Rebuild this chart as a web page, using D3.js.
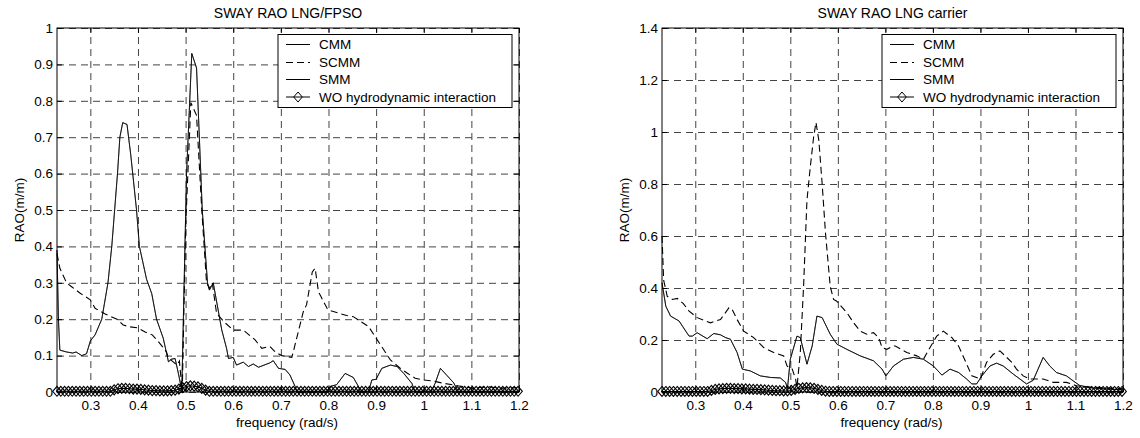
<!DOCTYPE html>
<html>
<head>
<meta charset="utf-8">
<script src="https://cdn.jsdelivr.net/npm/d3@7"></script>
<style>
  body { margin: 0; background: #fff; }
  text { font-family: "Liberation Sans", Arial, sans-serif; fill: #000; }
</style>
</head>
<body>
<div id="chart"></div>
<script>
// tick labels
var freqTicks = [0.3, 0.4, 0.5, 0.6, 0.7, 0.8, 0.9, 1.0, 1.1, 1.2];
var fpsoYTicks = [0, 0.1, 0.2, 0.3, 0.4, 0.5, 0.6, 0.7, 0.8, 0.9, 1];
var carrierYTicks = [0, 0.2, 0.4, 0.6, 0.8, 1.0, 1.2, 1.4];
var legendNames = ['CMM', 'SCMM', 'SMM', 'WO hydrodynamic interaction'];

// LNG/FPSO : [frequency, RAO]
var fpsoScmm = [[0.23,0.38],[0.236,0.34],[0.243,0.32],[0.25,0.3],[0.26,0.29],[0.278,0.272],[0.3,0.253],[0.31,0.23],[0.33,0.215],[0.356,0.2],[0.369,0.184],[0.383,0.179],[0.4,0.176],[0.415,0.165],[0.43,0.157],[0.445,0.135],[0.46,0.11],[0.463,0.096],[0.472,0.085],[0.482,0.074],[0.487,0.085],[0.493,0.0],[0.5,0.45],[0.511,0.795],[0.523,0.76],[0.534,0.5],[0.544,0.3],[0.55,0.285],[0.556,0.3],[0.565,0.216],[0.583,0.19],[0.6,0.17],[0.621,0.17],[0.646,0.143],[0.66,0.12],[0.677,0.125],[0.688,0.11],[0.702,0.1],[0.723,0.095],[0.726,0.11],[0.747,0.22],[0.754,0.24],[0.766,0.33],[0.772,0.34],[0.779,0.275],[0.785,0.26],[0.797,0.23],[0.8,0.225],[0.838,0.21],[0.852,0.207],[0.884,0.18],[0.909,0.13],[0.93,0.088],[0.95,0.066],[0.965,0.052],[0.982,0.038],[1.0,0.033],[1.02,0.03],[1.041,0.024],[1.077,0.016],[1.105,0.01],[1.133,0.015],[1.16,0.01],[1.195,0.012]];
var fpsoSmm = [[0.23,0.39],[0.233,0.2],[0.236,0.115],[0.25,0.11],[0.263,0.107],[0.27,0.11],[0.282,0.1],[0.292,0.105],[0.3,0.14],[0.31,0.157],[0.324,0.2],[0.337,0.3],[0.345,0.4],[0.357,0.6],[0.362,0.7],[0.368,0.74],[0.377,0.735],[0.385,0.65],[0.397,0.5],[0.403,0.4],[0.418,0.31],[0.429,0.27],[0.439,0.2],[0.453,0.148],[0.464,0.083],[0.47,0.09],[0.478,0.092],[0.485,0.05],[0.492,0.005],[0.502,0.6],[0.513,0.93],[0.523,0.89],[0.535,0.5],[0.546,0.3],[0.55,0.28],[0.558,0.3],[0.576,0.17],[0.586,0.12],[0.59,0.092],[0.6,0.095],[0.607,0.074],[0.621,0.082],[0.632,0.07],[0.642,0.077],[0.653,0.068],[0.677,0.08],[0.684,0.086],[0.695,0.065],[0.709,0.062],[0.719,0.047],[0.73,0.015],[0.734,0],[0.795,0],[0.803,0.015],[0.817,0.02],[0.835,0.051],[0.852,0.04],[0.863,0.015],[0.867,0],[0.884,0],[0.891,0.033],[0.9,0.035],[0.912,0.065],[0.93,0.074],[0.944,0.07],[0.958,0.051],[0.975,0.024],[0.982,0],[1.015,0],[1.024,0.024],[1.035,0.065],[1.049,0.045],[1.063,0.025],[1.073,0],[1.2,0]];
// CMM cannot be told apart from SMM in the figure: it lies under it
var fpsoCmm = fpsoSmm;
var fpsoWo = [
  0.002,0.002,0.002,0.002,0.002,0.002,0.002,0.002,0.002,0.002,0.002,0.002,0.002,0.002,0.002,
  0.006,0.009,0.010,0.010,0.009,0.008,0.008,0.007,0.006,0.005,
  0.004,0.004,0.003,0.003,0.003,0.004,0.005,
  0.008,0.012,0.015,0.017,0.016,0.014,0.010,0.005,0.002,
  0.002,0.002,0.002,0.002,0.002,0.002,0.002,0.002,0.002,0.002,
  0.002,0.002,0.002,0.002,0.002,0.002,0.002,0.002,0.002,0.002,
  0.002,0.002,0.002,0.002,0.002,0.002,0.002,0.002,0.002,0.002,
  0.002,0.002,0.002,0.002,0.002,0.002,0.002,0.002,0.002,0.002,
  0.002,0.002,0.002,0.002,0.002,0.002,0.002,0.002,0.002,0.002,
  0.002,0.002,0.002,0.002,0.002,0.002,0.002,0.002,0.002,0.002,
  0.002,0.002,0.002,0.002,0.002,0.002,0.002,0.002,0.002,0.002,
  0.002,0.002,0.002,0.002,0.002,0.002,0.002,0.002,0.002,0.002,
  0.002];

// LNG carrier : [frequency, RAO]
var carrierScmm = [[0.23,0.6],[0.2335,0.43],[0.241,0.368],[0.252,0.356],[0.262,0.36],[0.269,0.349],[0.275,0.34],[0.287,0.311],[0.304,0.286],[0.332,0.266],[0.353,0.279],[0.371,0.324],[0.377,0.32],[0.388,0.279],[0.402,0.234],[0.423,0.209],[0.444,0.171],[0.465,0.152],[0.486,0.139],[0.493,0.1],[0.504,0.088],[0.511,0.05],[0.514,0.018],[0.521,0.152],[0.528,0.41],[0.535,0.738],[0.542,0.865],[0.549,0.98],[0.554,1.037],[0.56,0.968],[0.567,0.8],[0.574,0.611],[0.584,0.406],[0.591,0.356],[0.597,0.35],[0.619,0.305],[0.633,0.267],[0.647,0.234],[0.661,0.222],[0.675,0.228],[0.686,0.209],[0.693,0.171],[0.703,0.164],[0.717,0.177],[0.721,0.177],[0.745,0.152],[0.766,0.139],[0.78,0.126],[0.794,0.171],[0.808,0.215],[0.822,0.234],[0.84,0.209],[0.854,0.177],[0.868,0.12],[0.882,0.062],[0.9,0.05],[0.913,0.114],[0.927,0.145],[0.941,0.158],[0.952,0.139],[0.966,0.114],[0.976,0.088],[0.99,0.062],[1.004,0.05],[1.032,0.05],[1.053,0.037],[1.081,0.037],[1.102,0.024],[1.123,0.02],[1.165,0.015],[1.19,0.013],[1.2,0.012]];
var carrierSmm = [[0.23,0.42],[0.238,0.33],[0.248,0.292],[0.266,0.273],[0.28,0.234],[0.287,0.215],[0.294,0.215],[0.304,0.228],[0.325,0.205],[0.339,0.225],[0.353,0.22],[0.364,0.209],[0.374,0.203],[0.388,0.152],[0.399,0.088],[0.416,0.081],[0.437,0.062],[0.458,0.056],[0.479,0.054],[0.49,0.037],[0.494,0.013],[0.5,0.126],[0.514,0.215],[0.521,0.209],[0.535,0.107],[0.546,0.177],[0.556,0.292],[0.567,0.286],[0.584,0.222],[0.598,0.184],[0.619,0.164],[0.647,0.139],[0.675,0.12],[0.693,0.088],[0.701,0.062],[0.717,0.1],[0.738,0.126],[0.759,0.133],[0.78,0.126],[0.801,0.1],[0.819,0.065],[0.836,0.088],[0.854,0.075],[0.871,0.05],[0.882,0.031],[0.892,0.031],[0.903,0.062],[0.92,0.1],[0.934,0.111],[0.948,0.1],[0.969,0.069],[0.997,0.031],[1.011,0.045],[1.032,0.133],[1.046,0.1],[1.06,0.075],[1.081,0.062],[1.095,0.043],[1.109,0.025],[1.137,0.015],[1.2,0.008]];
var carrierCmm = carrierSmm;
var carrierWo = [
  0.002,0.002,0.002,0.002,0.002,0.002,0.002,0.002,0.002,0.002,0.002,0.002,0.002,
  0.006,0.010,0.012,0.013,0.014,0.014,0.013,0.013,0.012,0.012,0.011,0.010,0.010,0.009,0.008,0.007,0.006,
  0.005,0.005,0.004,0.004,0.006,
  0.010,0.014,0.016,0.017,0.016,0.014,0.010,0.006,0.003,
  0.002,0.002,0.002,0.002,0.002,0.002,0.002,0.002,0.002,0.002,
  0.002,0.002,0.002,0.002,0.002,0.002,0.002,0.002,0.002,0.002,
  0.002,0.002,0.002,0.002,0.002,0.002,0.002,0.002,0.002,0.002,
  0.002,0.002,0.002,0.002,0.002,0.002,0.002,0.002,0.002,0.002,
  0.002,0.002,0.002,0.002,0.002,0.002,0.002,0.002,0.002,0.002,
  0.002,0.002,0.002,0.002,0.002,0.002,0.002,0.002,0.002,0.002,
  0.002,0.002,0.002,0.002,0.002,0.002,0.002,0.002,0.002,0.002,
  0.002,0.002,0.002,0.002,0.002,0.002,0.002,0.002];

// sampling grid of the WO curves
var woFreq = d3.range(122).map(function(i){ return 0.23 + i * 0.008; });

var svg = d3.select('#chart').append('svg')
            .attr('width', 1140)
            .attr('height', 438);

var fontSize = 13.5;
var diamond = 'M0,-5L4.3,0L0,5L-4.3,0Z';

function drawPanel(p) {
    var x = d3.scaleLinear().domain([0.23, 1.2]).range([p.left, p.right]);
    var y = d3.scaleLinear().domain([0, p.yMax]).range([392, 28]);
    var g = svg.append('g');
    var fmt = d3.format('~g');

    // dashed grid
    g.append('g').attr('transform', 'translate(0,392)')
      .call(d3.axisBottom(x).tickValues(freqTicks).tickSize(-364).tickFormat(''))
      .call(function(s){ s.select('.domain').remove(); })
      .selectAll('line').attr('stroke', '#444').attr('stroke-dasharray', '7,5');
    g.append('g').attr('transform', 'translate(' + p.left + ',0)')
      .call(d3.axisLeft(y).tickValues(p.yTicks).tickSize(-(p.right - p.left)).tickFormat(''))
      .call(function(s){ s.select('.domain').remove(); })
      .selectAll('line').attr('stroke', '#444').attr('stroke-dasharray', '7,5');

    // box
    g.append('rect').attr('x', p.left).attr('y', 28)
      .attr('width', p.right - p.left).attr('height', 364)
      .attr('fill', 'none').attr('stroke', '#000').attr('stroke-width', 1);

    // axes with inward ticks
    g.append('g').attr('transform', 'translate(0,392)')
      .call(d3.axisBottom(x).tickValues(freqTicks).tickSize(-5).tickPadding(8).tickFormat(fmt));
    g.append('g').attr('transform', 'translate(' + p.left + ',0)')
      .call(d3.axisLeft(y).tickValues(p.yTicks).tickSize(-5).tickPadding(4).tickFormat(fmt));
    g.append('g').attr('transform', 'translate(0,28)')
      .call(d3.axisTop(x).tickValues(freqTicks).tickSize(-5).tickFormat(''));
    g.append('g').attr('transform', 'translate(' + p.right + ',0)')
      .call(d3.axisRight(y).tickValues(p.yTicks).tickSize(-5).tickFormat(''));
    g.selectAll('.domain').remove();
    g.selectAll('.tick text').attr('font-size', fontSize).attr('font-family', '"Liberation Sans", Arial, sans-serif');

    // titles
    var cx = (p.left + p.right) / 2;
    g.append('text').attr('x', cx).attr('y', 17.5).attr('text-anchor', 'middle')
      .attr('font-size', 14).text(p.title);
    g.append('text').attr('x', cx - 1).attr('y', 427).attr('text-anchor', 'middle')
      .attr('font-size', fontSize).text('frequency (rad/s)');
    g.append('text').attr('transform', 'translate(' + (p.left - 38) + ',210) rotate(-90)')
      .attr('text-anchor', 'middle').attr('dy', '0.35em')
      .attr('font-size', fontSize).text('RAO(m/m)');

    var line = d3.line().x(function(d){ return x(d[0]); }).y(function(d){ return y(d[1]); });

    // WO curve with diamonds
    var wo = woFreq.map(function(f, i){ return [f, p.wo[i]]; });
    g.append('path').datum(wo).attr('fill', 'none').attr('stroke', '#000')
      .attr('stroke-width', 1.1).attr('d', line);
    g.selectAll('.wo').data(wo).enter().append('path')
      .attr('class', 'wo')
      .attr('transform', function(d){ return 'translate(' + x(d[0]) + ',' + y(d[1]) + ')'; })
      .attr('d', diamond).attr('fill', 'none').attr('stroke', '#000').attr('stroke-width', 1.1);

    g.append('path').datum(p.cmm).attr('fill', 'none').attr('stroke', '#000')
      .attr('stroke-width', 0.7).attr('d', line);
    g.append('path').datum(p.scmm).attr('fill', 'none').attr('stroke', '#000')
      .attr('stroke-width', 1.1).attr('stroke-dasharray', '7,4').attr('d', line);
    g.append('path').datum(p.smm).attr('fill', 'none').attr('stroke', '#000')
      .attr('stroke-width', 0.7).attr('d', line);

    // legend
    var lx = p.right - 241, ly = 34.5;
    var lg = g.append('g').attr('transform', 'translate(' + lx + ',' + ly + ')');
    lg.append('rect').attr('width', 234).attr('height', 73)
      .attr('fill', '#fff').attr('stroke', '#000').attr('stroke-width', 1);
    var rows = [10, 28, 45, 62.5];
    legendNames.forEach(function(name, i){
        lg.append('line').attr('x1', 8).attr('x2', 32).attr('y1', rows[i]).attr('y2', rows[i])
          .attr('stroke', '#000').attr('stroke-width', 1)
          .attr('stroke-dasharray', i === 1 ? '7,4' : null);
        if (i === 3) {
            lg.append('path').attr('transform', 'translate(20,' + rows[i] + ')')
              .attr('d', diamond).attr('fill', 'none').attr('stroke', '#000').attr('stroke-width', 1);
        }
        lg.append('text').attr('x', 41).attr('y', rows[i]).attr('dy', '0.36em')
          .attr('font-size', fontSize).text(name);
    });
}

drawPanel({left: 57, right: 519, yMax: 1, yTicks: fpsoYTicks, title: 'SWAY RAO LNG/FPSO',
           cmm: fpsoCmm, scmm: fpsoScmm, smm: fpsoSmm, wo: fpsoWo});
drawPanel({left: 662, right: 1123, yMax: 1.4, yTicks: carrierYTicks, title: 'SWAY RAO LNG carrier',
           cmm: carrierCmm, scmm: carrierScmm, smm: carrierSmm, wo: carrierWo});
</script>
</body>
</html>
